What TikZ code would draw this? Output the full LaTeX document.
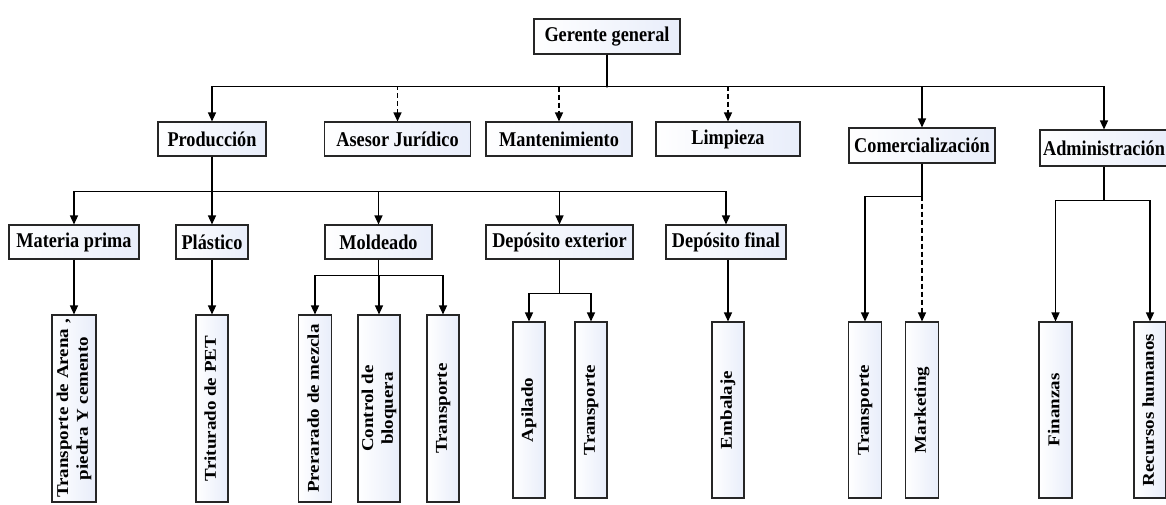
\documentclass[tikz,border=0pt]{standalone}
\usepackage{fontspec}
\usepackage{graphicx}
\newfontfamily\hfont[FakeStretch=0.87]{Liberation Serif}
\newfontfamily\vfont{Liberation Serif}
\usetikzlibrary{arrows.meta}
\definecolor{BoxFill}{rgb}{0.91,0.93,0.98}
\definecolor{BoxLine}{rgb}{0.15,0.15,0.15}
\newcommand{\vtxt}[1]{\rotatebox{90}{\scalebox{1}[0.87]{\begin{tabular}{@{}c@{}}#1\end{tabular}}}}

\begin{document}
\begin{tikzpicture}[x=1pt,y=-1pt,
  box/.style={draw=BoxLine,line width=1.1pt,left color=white,right color=BoxFill,
    inner sep=0pt,minimum height=34pt,font=\hfont\bfseries\fontsize{21}{24}\selectfont},
  vbox/.style={box,font=\vfont\bfseries\fontsize{19}{22.6}\selectfont},
  tall/.style={vbox,minimum height=187pt},
  short/.style={vbox,minimum height=176pt},
  link/.style={line width=1.3pt,-{Triangle[length=9pt,width=8pt]}},
  dlink/.style={link,dash pattern=on 5pt off 3pt}]
\useasboundingbox (0,0) rectangle (1166,504);

% nivel 1
\node[box,minimum width=146pt,minimum height=35pt] (ger) at (607,36.5) {Gerente general};

% nivel 2
\node[box,minimum width=108pt] (prod) at (212,139) {Producción};
\node[box,minimum width=146pt] (ases) at (397.5,139) {Asesor Jurídico};
\node[box,minimum width=146pt] (mant) at (559,139) {Mantenimiento};
\node[box,minimum width=144pt] (limp) at (728,139) {Limpieza};
\node[box,minimum width=146pt,minimum height=35pt] (comr) at (922,145.5) {Comercialización};
\node[box,minimum width=128pt,minimum height=36pt] (admn) at (1104,148) {Administración};

% nivel 3
\node[box,minimum width=130pt] (mat) at (74,242) {Materia prima};
\node[box,minimum width=72pt] (plas) at (212,242) {Plástico};
\node[box,minimum width=107pt] (mold) at (378.5,242) {Moldeado};
\node[box,minimum width=147pt] (dext) at (559.5,242) {Depósito exterior};
\node[box,minimum width=120pt] (dfin) at (726,242) {Depósito final};

% nivel 4
\node[tall,minimum width=44pt] (tare) at (74,408.5) {\vtxt{Transporte de Arena ,\\piedra Y cemento}};
\node[tall,minimum width=32pt] (trit) at (212,408.5) {\vtxt{Triturado de PET}};
\node[tall,minimum width=33pt] (prep) at (315,408.5) {\vtxt{Prerarado de mezcla}};
\node[tall,minimum width=42pt] (ctrl) at (379,408.5) {\vtxt{Control de\\bloquera}};
\node[tall,minimum width=32pt] (trm) at (443,408.5) {\vtxt{Transporte}};
\node[short,minimum width=32pt] (apil) at (529,410) {\vtxt{Apilado}};
\node[short,minimum width=32pt] (trd) at (591,410) {\vtxt{Transporte}};
\node[short,minimum width=32pt] (emb) at (728,410) {\vtxt{Embalaje}};
\node[short,minimum width=33pt] (trc) at (865,410) {\vtxt{Transporte}};
\node[short,minimum width=33pt] (mkt) at (922,410) {\vtxt{Marketing}};
\node[short,minimum width=33pt] (fin) at (1055.5,410) {\vtxt{Finanzas}};
\node[short,minimum width=32pt] (rrhh) at (1150,410) {\vtxt{Recursos humanos}};

% conexiones
\foreach \n in {ases,mant,limp}
  \draw[dlink] (ger.south) -- ++(0,32) -| (\n.north);
\foreach \n in {prod,comr,admn}
  \draw[link] (ger.south) -- ++(0,32) -| (\n.north);

\foreach \n in {mat,plas,mold,dext,dfin}
  \draw[link] (prod.south) -- ++(0,35) -| (\n.north);
\foreach \n in {prep,ctrl,trm}
  \draw[link] (mold.south) -- ++(0,16) -| (\n.north);
\foreach \n in {apil,trd}
  \draw[link] (dext.south) -- ++(0,34) -| (\n.north);
\draw[link] (mat.south) -- (tare.north);
\draw[link] (plas.south) -- (trit.north);
\draw[link] (emb.north |- dfin.south) -- (emb.north);

\draw[link] (comr.south) -- ++(0,33) -| (trc.north);
\draw[dlink] (comr.south) -- (mkt.north);
\foreach \n in {fin,rrhh}
  \draw[link] (admn.south) -- ++(0,34) -| (\n.north);

\end{tikzpicture}
\end{document}
